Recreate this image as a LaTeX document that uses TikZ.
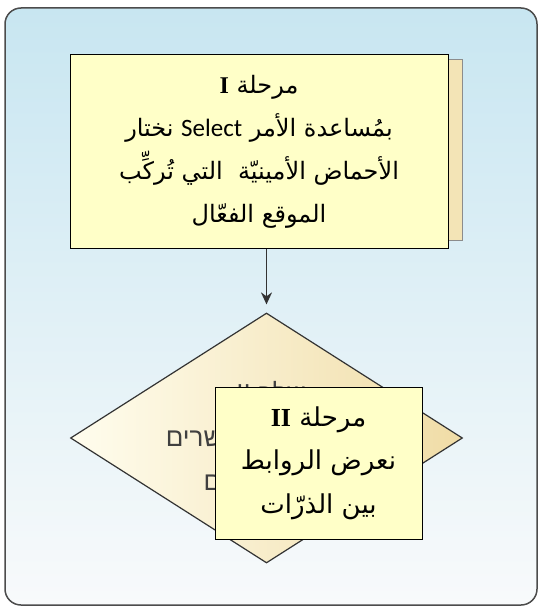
\documentclass[tikz,border=0pt]{standalone}
\usepackage{fontspec}
\setmainfont{Liberation Sans}
\newfontfamily\arabicfont[Script=Arabic]{DejaVu Sans}
\newfontfamily\hebrewfont[Script=Hebrew]{Liberation Sans}
\newfontfamily\romanfont{Liberation Serif}
\newfontfamily\calibrifont{Carlito}
\TeXXeTstate=1
\usetikzlibrary{shapes.geometric,positioning,arrows.meta}

\definecolor{panelTop}{HTML}{C8E6F1}
\definecolor{panelBot}{HTML}{F8FAFB}
\definecolor{noteFill}{HTML}{FFFFC8}
\definecolor{noteBack}{HTML}{F3E4B6}
\definecolor{diaLeft}{HTML}{FFFDEE}
\definecolor{diaRight}{HTML}{F0DCA6}

\begin{document}
\begin{tikzpicture}[x=1pt,y=-1pt,
    notebox/.style={draw=black, line width=1pt, fill=noteFill, inner sep=0pt,
      align=center, font=\arabicfont\fontsize{24}{43}\selectfont},
    arrowline/.style={draw=black!80, line width=1.6pt,
      -{Stealth[length=12pt,width=11pt]}, shorten >=8pt}]
    \useasboundingbox (0,0) rectangle (542,610);
    % panel
    \draw [draw=black!70, line width=1.5pt, rounded corners=16pt,
      top color=panelTop, bottom color=panelBot] (5,8) rectangle (537,605);
    % stage II diamond with the hebrew text behind the note
    \node [shape=diamond, draw=black!80, line width=1.2pt, inner sep=0pt,
      left color=diaLeft, middle color=diaLeft!75!diaRight, right color=diaRight,
      minimum width=392pt, minimum height=250pt] (dia) at (266.5,438) {};
    \node [align=center, text=black!75, inner sep=0pt,
      font=\hebrewfont\fontsize{26}{44}\selectfont] (diaText) at (271,438)
      {\beginR שלב \beginL II\endL{}\endR\\
       \beginR מציגים את הקשרים\endR\\
       \beginR בין האטומים\endR};
    % stage I note and its back sheet
    \node [draw=black!45, line width=1pt, fill=noteBack, inner sep=0pt,
      minimum width=390pt, minimum height=180pt] (backI) at (267,150) {};
    \node [notebox, minimum width=378pt, minimum height=193pt] (stepI) at (259,151.5)
      {\beginR مرحلة \beginL{\romanfont\bfseries I}\endL{}\endR\\
       \beginR بمُساعدة الأمر \beginL{\calibrifont\fontsize{25}{43}\selectfont Select}\endL{} نختار\endR\\
       \beginR الأحماض الأمينيّة~ التي تُركِّب\endR\\
       \beginR الموقع الفعّال\endR};
    \draw [arrowline] (dia.north |- stepI.south) -- (dia.north);
    % stage II note
    \node [notebox, minimum width=207pt, minimum height=152pt,
      font=\arabicfont\fontsize{26}{43.5}\selectfont] (stepII) at (318.5,463)
      {\beginR مرحلة \beginL{\romanfont\bfseries II}\endL{}\endR\\
       \beginR نعرض الروابط\endR\\
       \beginR بين الذرّات\endR};
\end{tikzpicture}
\end{document}
